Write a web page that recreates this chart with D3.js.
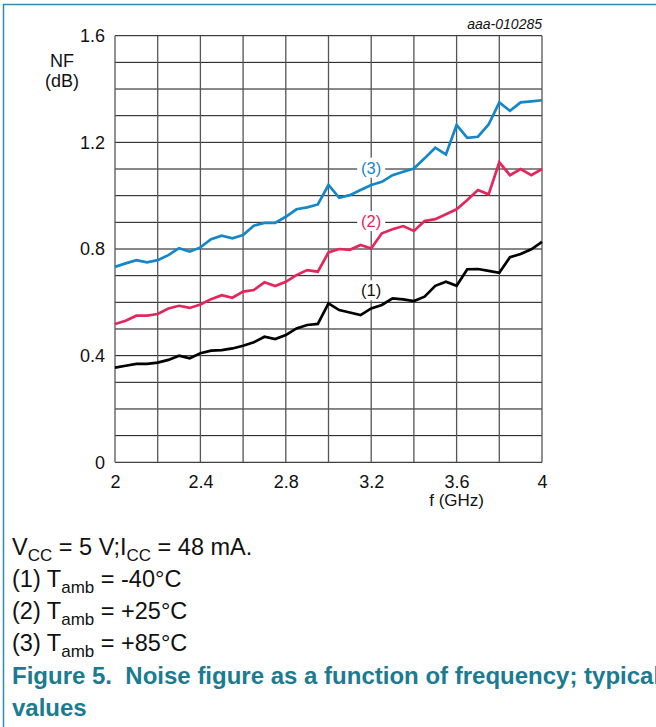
<!DOCTYPE html>
<html>
<head>
<meta charset="utf-8">
<script src="https://cdn.jsdelivr.net/npm/d3@7"></script>
<style>
  html, body { margin: 0; padding: 0; background: #fff; }
  svg { display: block; font-family: "Liberation Sans", Arial, sans-serif; }
  text { white-space: pre; }
</style>
</head>
<body>
<svg id="chart" width="656" height="727"></svg>
<script>
// ---- data ----
const freq = [2.0,2.05,2.1,2.15,2.2,2.25,2.3,2.35,2.4,2.45,2.5,2.55,2.6,2.65,2.7,2.75,2.8,2.85,2.9,2.95,
              3.0,3.05,3.1,3.15,3.2,3.25,3.3,3.35,3.4,3.45,3.5,3.55,3.6,3.65,3.7,3.75,3.8,3.85,3.9,3.95,4.0];
const nf1 = [0.355,0.362,0.369,0.369,0.374,0.384,0.400,0.390,0.409,0.419,0.421,0.427,0.437,0.450,0.471,0.462,0.477,0.502,0.515,0.519,
             0.596,0.571,0.562,0.552,0.577,0.590,0.615,0.611,0.605,0.621,0.662,0.677,0.662,0.724,0.725,0.718,0.711,0.769,0.781,0.799,0.827];
const nf2 = [0.519,0.531,0.550,0.550,0.556,0.577,0.587,0.579,0.592,0.612,0.627,0.617,0.640,0.646,0.675,0.661,0.677,0.702,0.721,0.715,
             0.787,0.800,0.797,0.815,0.802,0.859,0.874,0.886,0.868,0.905,0.912,0.930,0.949,0.984,1.021,1.005,1.125,1.077,1.100,1.077,1.100];
const nf3 = [0.733,0.746,0.758,0.750,0.758,0.777,0.803,0.790,0.806,0.837,0.850,0.840,0.852,0.887,0.898,0.898,0.921,0.949,0.956,0.967,
             1.040,0.992,1.002,1.021,1.040,1.052,1.077,1.090,1.102,1.140,1.180,1.155,1.265,1.217,1.221,1.267,1.350,1.318,1.350,1.354,1.358];
const seriesNames = ["(1)", "(2)", "(3)"];
const labelAt = [3.2, 3.2, 3.2];          // frequency where each curve label sits
const labelVal = [0.645, 0.905, 1.105];   // NF value where each curve label sits
const xTicks = [2, 2.4, 2.8, 3.2, 3.6, 4];
const yTicks = [0, 0.4, 0.8, 1.2, 1.6];
const xGrid = d3.range(0, 11).map(i => 2 + i * 0.2);
const yGrid = d3.range(0, 17).map(i => i * 0.1);
const colors = ["#000000", "#e5265c", "#1487c8"];
const noteLines = [
  [["V", 0], ["CC", 1], [" = 5 V;I", 0], ["CC", 1], [" = 48 mA.", 0]],
  [["(1) T", 0], ["amb", 1], [" = -40°C", 0]],
  [["(2) T", 0], ["amb", 1], [" = +25°C", 0]],
  [["(3) T", 0], ["amb", 1], [" = +85°C", 0]]
];
const captionLines = ["Figure 5.  Noise figure as a function of frequency; typical", "values"];

// ---- layout ----
const svg = d3.select("#chart");
const x = d3.scaleLinear().domain([2, 4]).range([115, 542]);
const y = d3.scaleLinear().domain([0, 1.6]).range([462.3, 35.7]);
const FONT = "'Liberation Sans', Arial, sans-serif";

// frame
svg.append("path")
  .attr("d", "M3.5,727 V4.5 H656")
  .attr("fill", "none").attr("stroke", "#2a8fa8").attr("stroke-width", 1.5);

// grid
const g = svg.append("g");
g.selectAll("line.h").data(yGrid).join("line")
  .attr("x1", x(2)).attr("x2", x(4))
  .attr("y1", d => y(d)).attr("y2", d => y(d))
  .attr("stroke", "#111").attr("stroke-width", 1);
g.selectAll("line.v").data(xGrid).join("line")
  .attr("y1", y(0)).attr("y2", y(1.6))
  .attr("x1", d => x(d)).attr("x2", d => x(d))
  .attr("stroke", "#555").attr("stroke-width", 1.3);

// axes labels via d3 axes (domain/ticks hidden)
const yAxis = svg.append("g").attr("transform", `translate(${x(2)},0)`)
  .call(d3.axisLeft(y).tickValues(yTicks).tickFormat(d3.format("~g")).tickSize(0).tickPadding(10));
yAxis.select(".domain").remove();
yAxis.selectAll("text").attr("font-size", 18).attr("fill", "#111").attr("font-family", FONT);

const xAxis = svg.append("g").attr("transform", `translate(0,${y(0)})`)
  .call(d3.axisBottom(x).tickValues(xTicks).tickFormat(d3.format("~g")).tickSize(0).tickPadding(13));
xAxis.select(".domain").remove();
xAxis.selectAll("text").attr("font-size", 18).attr("fill", "#111").attr("font-family", FONT);

svg.append("text").attr("x", 62).attr("y", 67).attr("text-anchor", "middle")
  .attr("font-size", 18).attr("fill", "#111").text("NF");
svg.append("text").attr("x", 62).attr("y", 87).attr("text-anchor", "middle")
  .attr("font-size", 18).attr("fill", "#111").text("(dB)");
svg.append("text").attr("x", x(3.6)).attr("y", 506).attr("text-anchor", "middle")
  .attr("font-size", 17).attr("fill", "#111").text("f (GHz)");
svg.append("text").attr("x", x(4)).attr("y", 29).attr("text-anchor", "end")
  .attr("font-size", 14).attr("font-style", "italic").attr("fill", "#111").text("aaa-010285");

// curves
const allSeries = [nf1, nf2, nf3];
const line = d3.line().x((d, i) => x(freq[i])).y(d => y(d));
svg.selectAll("path.curve").data(allSeries).join("path")
  .attr("class", "curve")
  .attr("d", d => line(d))
  .attr("fill", "none")
  .attr("stroke", (d, i) => colors[i])
  .attr("stroke-width", 2.7)
  .attr("stroke-linejoin", "miter");

// curve labels with white backing
seriesNames.forEach((name, i) => {
  const cx = x(labelAt[i]), cy = y(labelVal[i]);
  svg.append("rect").attr("x", cx - 14).attr("y", cy - 10).attr("width", 28).attr("height", 20).attr("fill", "#fff");
  svg.append("text").attr("x", cx).attr("y", cy + 6).attr("text-anchor", "middle")
    .attr("font-size", 16.5).attr("fill", i === 0 ? "#111" : colors[i]).text(name);
});

// notes
const noteBase = [555, 587, 619, 651];
noteLines.forEach((parts, li) => {
  const t = svg.append("text").attr("x", 12).attr("y", noteBase[li]).attr("font-size", 23.5).attr("fill", "#111");
  parts.forEach(([s, sub], k) => {
    let dy = 0;
    if (sub) dy = 6;
    else if (k > 0 && parts[k - 1][1]) dy = -6;
    const ts = t.append("tspan").attr("dy", dy).text(s);
    if (sub) ts.attr("font-size", 17);
  });
});

// caption
captionLines.forEach((s, i) => {
  svg.append("text").attr("x", 12).attr("y", [684, 716][i])
    .attr("font-size", 24).attr("font-weight", "bold").attr("fill", "#1a7b91").text(s);
});
</script>
</body>
</html>
